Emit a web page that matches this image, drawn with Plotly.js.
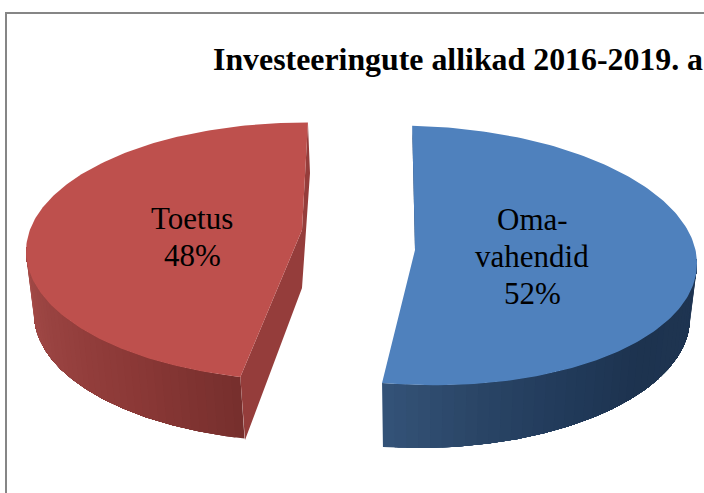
<!DOCTYPE html>
<html>
<head>
<meta charset="utf-8">
<script src="https://cdn.plot.ly/plotly-3.0.1.min.js"></script>
<style>html,body{margin:0;padding:0;background:#fff;overflow:hidden}</style>
</head>
<body>
<div id="chart" style="width:704px;height:493px"></div>
<script>
const chartTitle = 'Investeeringute allikad 2016-2019. a';
const categories = ['Toetus', 'Oma-<br>vahendid'];
const values = [48, 52];
const topColors = ['#BE504D', '#4F81BD'];
const cutColors = ['#953D3B', '#1F3A5C'];

// drawing geometry of the exploded 3-D slices, in layout pixels
const scene = [
  { top: {cx:305, cy:251.5, rx:279, ry:129, t:0}, low: {cx:308, cy:314, rx:274, ry:128, t:0},
    start:193.4, k:0.9676, apex:[302,230], sideEnd:272,
    cut:[[310,173],[302,288],[245,440]], label:[192,236.5],
    ramp:[[0,'#762F2D'],[0.3,'#8A3836'],[0.65,'#984240'],[1,'#A54C49']] },
  { top: {cx:418, cy:255.5, rx:279, ry:129.5, t:8}, low: {cx:418, cy:318, rx:272, ry:130, t:0},
    start:-1.2, k:1.0075, apex:[415,250], sideEnd:88,
    cut:[[420,233],[420,241]], label:[532,256],
    ramp:[[0,'#345378'],[0.2,'#2A4566'],[0.4,'#213A5A'],[0.6,'#1D334F'],[1,'#1F3552']] }
];
const lineGap = 37;

const rad = d => d * Math.PI / 180;
const rim = (e, a) => [e.cx + e.rx * Math.sin(rad(a)), e.cy - e.ry * Math.cos(rad(a)) + e.t * Math.sin(rad(a))];
const hex = c => [1,3,5].map(i => parseInt(c.substr(i,2),16));
function ramp(stops, f) {
  for (let i = 1; i < stops.length; i++) {
    if (f <= stops[i][0]) {
      const u = (f - stops[i-1][0]) / (stops[i][0] - stops[i-1][0]);
      const a = hex(stops[i-1][1]), b = hex(stops[i][1]);
      return 'rgb(' + a.map((v,j) => Math.round(v + (b[j]-v)*u)).join(',') + ')';
    }
  }
  return stops[stops.length-1][1];
}
const poly = (pts, color, w) => ({
  type:'scatter', mode:'lines', x:pts.map(p=>p[0]), y:pts.map(p=>p[1]),
  fill:'toself', fillcolor:color, line:{color:color, width:w||0},
  hoverinfo:'skip', showlegend:false
});

const total = values.reduce((a,b)=>a+b,0);
const sides = [], faces = [], annotations = [];
values.forEach((v,i) => {
  const s = scene[i];
  const sweep = v / total * 360 * s.k;
  const a0 = s.start, a1 = s.start + sweep;
  const wallStart = i === 0 ? a0 : a1;
  const n = 40, m = 6;
  // each band runs on to the far end of the wall and the next one paints over it: no seams
  for (let j = 0; j < n; j++) {
    const pts = [];
    for (let h = 0; h <= (n-j)*m; h++) {
      pts.push(rim(s.top, wallStart + (s.sideEnd-wallStart)*(j/n + h/(n*m))));
    }
    for (let h = (n-j)*m; h >= 0; h--) {
      pts.push(rim(s.low, wallStart + (s.sideEnd-wallStart)*(j/n + h/(n*m))));
    }
    pts.push(pts[0]);
    sides.push(poly(pts, ramp(s.ramp, (j+0.5)/n)));
  }
  const tipA = rim(s.top,a1), tipB = rim(s.top,a0);
  if (i === 0) {
    faces.push(poly([tipA].concat(s.cut,[tipB,s.apex,tipA]), cutColors[i]));
  } else {
    faces.push(poly([tipB].concat(s.cut,[s.apex,tipB]), cutColors[i]));
  }
  const surf = [s.apex];
  for (let j = 0; j <= 180; j++) surf.push(rim(s.top, a0 + sweep*j/180));
  surf.push(s.apex);
  faces.push(poly(surf, topColors[i]));
  const lines = (categories[i] + '<br>' + Math.round(v/total*100) + '%').split('<br>');
  lines.forEach((txt,k) => annotations.push({
    x:s.label[0], y:s.label[1] + (k-(lines.length-1)/2)*lineGap, xref:'x', yref:'y', showarrow:false,
    xanchor:'center', yanchor:'middle', text:txt,
    font:{family:'"Liberation Serif", serif', size:31, color:'#000'}
  }));
});

const layout = {
  width:704, height:493, margin:{l:0,r:0,t:0,b:0},
  paper_bgcolor:'#fff', plot_bgcolor:'#fff', showlegend:false,
  title:{text:'<b>'+chartTitle+'</b>', x:213/704, xanchor:'left', xref:'paper', y:1-59/493, yanchor:'middle',
         font:{family:'"Liberation Serif", serif', size:31.85, color:'#000'}},
  xaxis:{range:[0,704], visible:false, fixedrange:true},
  yaxis:{range:[493,0], visible:false, fixedrange:true},
  shapes:[
    {type:'line', xref:'x', yref:'y', x0:6, x1:6, y0:12.5, y1:493, line:{color:'#868686', width:2}},
    {type:'line', xref:'x', yref:'y', x0:5, x1:704, y0:13, y1:13, line:{color:'#868686', width:2}}
  ],
  annotations
};
Plotly.newPlot('chart', sides.concat(faces), layout, {displayModeBar:false, staticPlot:true});
</script>
</body>
</html>
